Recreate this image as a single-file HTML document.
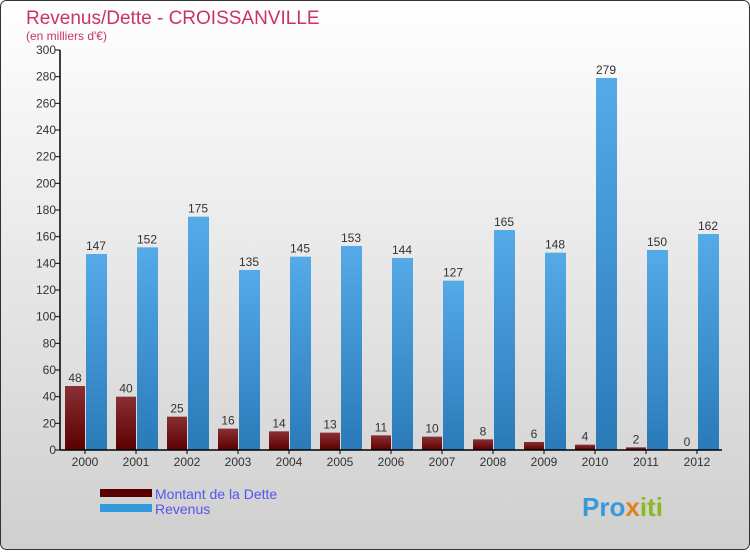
<!DOCTYPE html>
<html><head><meta charset="utf-8"><style>
body{margin:0;width:750px;height:550px;overflow:hidden;font-family:"Liberation Sans",sans-serif}
</style></head><body>
<svg width="750" height="550" xmlns="http://www.w3.org/2000/svg">
<defs>
<linearGradient id="bg" x1="0" y1="0" x2="0" y2="1"><stop offset="0" stop-color="#ffffff"/><stop offset="1" stop-color="#cfcfcf"/></linearGradient>
<linearGradient id="gd" x1="0" y1="0" x2="0" y2="1"><stop offset="0" stop-color="#8a3034"/><stop offset="1" stop-color="#5a0000"/></linearGradient>
<linearGradient id="gr" x1="0" y1="0" x2="0" y2="1"><stop offset="0" stop-color="#55aae8"/><stop offset="1" stop-color="#2a7ab8"/></linearGradient>
</defs>
<rect x="0.5" y="0.5" width="749" height="549" rx="6" fill="url(#bg)" stroke="#333"/>
<text x="26" y="24" font-size="19" fill="#c8336a">Revenus/Dette - CROISSANVILLE</text>
<text x="26" y="40" font-size="12" fill="#c8336a">(en milliers d'€)</text>
<g id="plot"></g>
<g>
<rect x="100" y="489" width="52" height="8" fill="#5a0000"/>
<text x="155" y="499" font-size="14" fill="#5555ee">Montant de la Dette</text>
<rect x="100" y="504" width="52" height="8" fill="#3399dd"/>
<text x="155" y="514" font-size="14" fill="#5555ee">Revenus</text>
</g>
<text x="582" y="516" font-size="26" font-weight="bold" fill="#3a9ad9">Pro<tspan fill="#e08020">x</tspan><tspan fill="#88bb22">iti</tspan></text>
</svg>
<script>
const years=["2000","2001","2002","2003","2004","2005","2006","2007","2008","2009","2010","2011","2012"];
const dette=[48,40,25,16,14,13,11,10,8,6,4,2,0];
const revenus=[147,152,175,135,145,153,144,127,165,148,279,150,162];
const yTicks=[0,20,40,60,80,100,120,140,160,180,200,220,240,260,280,300];
const NS="http://www.w3.org/2000/svg";
const g=document.getElementById('plot');
const y0=450,yTop=50,yMax=300,x0=60,step=51;
function ys(v){return y0-(v/yMax)*(y0-yTop);}
function xc(i){return 85+i*step;}
function mk(t,a,txt){const e=document.createElementNS(NS,t);for(const k in a)e.setAttribute(k,a[k]);if(txt!==undefined)e.textContent=txt;g.appendChild(e);return e;}
yTicks.forEach(v=>{
 const l=mk('line',{x1:x0-5,x2:x0,y1:ys(v),y2:ys(v),stroke:'#000'});
 
 
 const t=mk('text',{x:x0-4,y:ys(v)+4,'font-size':12,'text-anchor':'end',fill:'#333'},v);
 
 
});
years.forEach((yr,i)=>{
 const c=xc(i);
 const bd=mk('rect',{x:c-20,y:ys(dette[i]),width:20,height:y0-ys(dette[i]),fill:'url(#gd)'});
 
 
 const br=mk('rect',{x:c+1,y:ys(revenus[i]),width:21,height:y0-ys(revenus[i]),fill:'url(#gr)'});
 
 
 const ld=mk('text',{x:c-10,y:ys(dette[i])-4,'font-size':12,'text-anchor':'middle',fill:'#333'},dette[i]);
 
 
 const lr=mk('text',{x:c+11,y:ys(revenus[i])-4,'font-size':12,'text-anchor':'middle',fill:'#333'},revenus[i]);
 
 
 const tk=mk('line',{x1:c,x2:c,y1:y0,y2:y0+4,stroke:'#000'});
 
 
 const xl=mk('text',{x:c,y:y0+16,'font-size':12,'text-anchor':'middle',fill:'#333'},yr);
 
 
});
const ya=mk('line',{x1:x0,x2:x0,y1:yTop,y2:y0,stroke:'#000','stroke-width':1.5});


const xa=mk('line',{x1:x0,x2:722,y1:y0,y2:y0,stroke:'#000','stroke-width':1.5});


</script>
</body></html>
